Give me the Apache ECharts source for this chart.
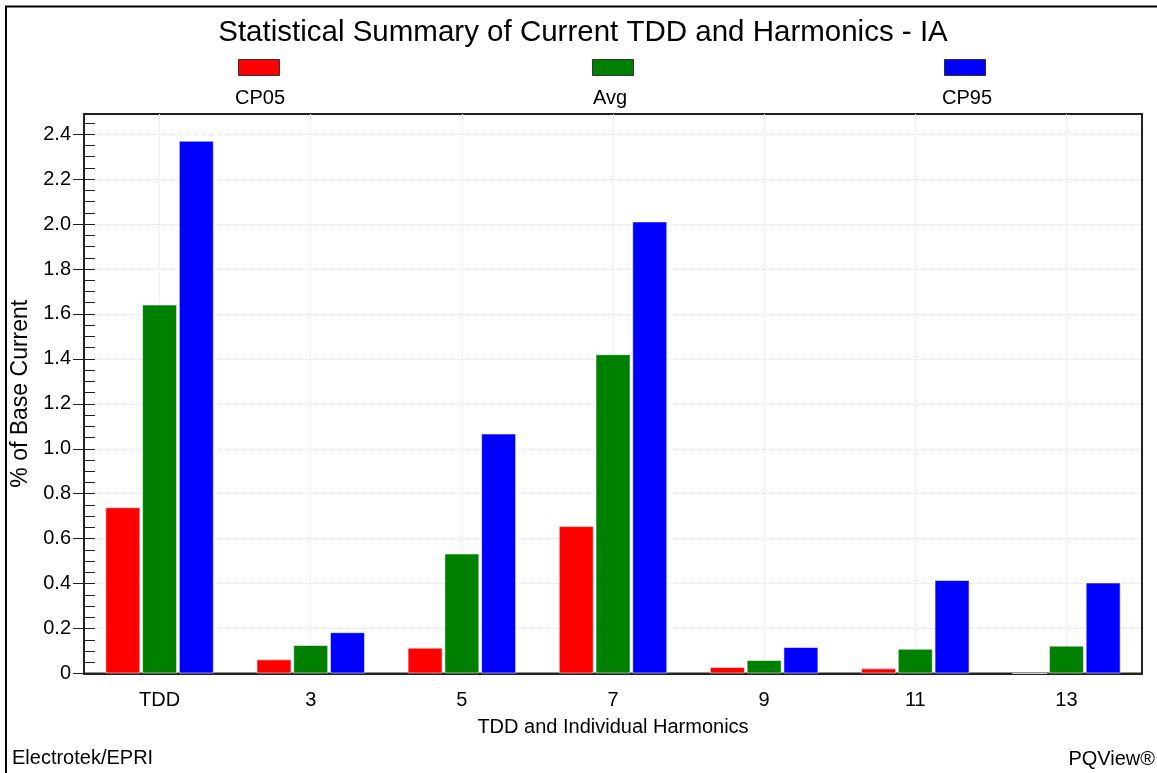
<!DOCTYPE html>
<html>
<head>
<meta charset="utf-8">
<script src="https://cdn.jsdelivr.net/npm/echarts@6/dist/echarts.min.js"></script>
<style>
html,body{margin:0;padding:0;background:#fff;}
#chart{width:1157px;height:773px;}
</style>
</head>
<body>
<div id="chart"></div>
<script>
// ---- data ----
const categories = ['TDD', '3', '5', '7', '9', '11', '13'];
const seriesNames = ['CP05', 'Avg', 'CP95'];
const cp05 = [0.74, 0.063, 0.115, 0.656, 0.029, 0.023, 0];
const avg  = [1.642, 0.127, 0.534, 1.421, 0.06, 0.11, 0.124];
const cp95 = [2.371, 0.184, 1.068, 2.012, 0.118, 0.416, 0.405];
const yTicks = [0, 0.2, 0.4, 0.6, 0.8, 1.0, 1.2, 1.4, 1.6, 1.8, 2.0, 2.2, 2.4];
const yTickLabels = ['0', '0.2', '0.4', '0.6', '0.8', '1.0', '1.2', '1.4', '1.6', '1.8', '2.0', '2.2', '2.4'];
const yMinorTicks = [0, 0.05, 0.1, 0.15, 0.2, 0.25, 0.3, 0.35, 0.4, 0.45, 0.5, 0.55, 0.6, 0.65, 0.7, 0.75,
  0.8, 0.85, 0.9, 0.95, 1.0, 1.05, 1.1, 1.15, 1.2, 1.25, 1.3, 1.35, 1.4, 1.45, 1.5, 1.55, 1.6, 1.65,
  1.7, 1.75, 1.8, 1.85, 1.9, 1.95, 2.0, 2.05, 2.1, 2.15, 2.2, 2.25, 2.3, 2.35, 2.4, 2.45];
const titleText = 'Statistical Summary of Current TDD and Harmonics - IA';
const xName = 'TDD and Individual Harmonics';
const yName = '% of Base Current';
const footLeft = 'Electrotek/EPRI';
const footRight = 'PQView®';
const colors = ['#ff0000', '#008000', '#0000ff'];

const FONT = "'Liberation Sans', Arial, sans-serif";
const chart = echarts.init(document.getElementById('chart'), null, {renderer: 'canvas'});

const seriesData = [cp05, avg, cp95];
const legendLefts = [238, 592, 944];
const legendLabelX = [260, 610, 967];

const option = {
  animation: false,
  backgroundColor: '#fff',
  textStyle: {fontFamily: FONT},
  grid: {left: 84, right: 15, top: 114, bottom: 99.5, show: true, borderColor: '#222', borderWidth: 2, containLabel: false},
  legend: seriesNames.map((n, i) => ({
    data: [n], left: legendLefts[i], top: 59, icon: 'rect', itemWidth: 41, itemHeight: 16,
    itemStyle: {borderColor: '#333', borderWidth: 1},
    formatter: () => '', selectedMode: false, padding: 0, textStyle: {fontSize: 1}
  })),
  xAxis: [{
    type: 'category', data: categories,
    name: xName, nameLocation: 'middle', nameGap: 44,
    nameTextStyle: {fontSize: 20, color: '#000', fontFamily: FONT},
    axisLine: {lineStyle: {color: '#222', width: 2}},
    axisTick: {alignWithLabel: true, length: 11, lineStyle: {color: '#222', width: 1}},
    axisLabel: {fontSize: 20, color: '#000', margin: 17, fontFamily: FONT},
    splitLine: {show: true, alignWithLabel: true, lineStyle: {color: '#e2e2e2', type: 'dotted', width: 1}}
  }],
  yAxis: [{
    type: 'value', min: 0, max: 2.49, interval: 0.2,
    name: yName, nameLocation: 'middle', nameGap: 46, nameRotate: 90,
    nameTextStyle: {fontSize: 23, color: '#000', fontFamily: FONT},
    axisLine: {show: true, lineStyle: {color: '#222', width: 2}},
    axisTick: {show: true, length: 11, customValues: yTicks, lineStyle: {color: '#222', width: 1}},
    axisLabel: {fontSize: 20, color: '#000', margin: 13, customValues: yTicks, fontFamily: FONT,
      formatter: (v) => { const k = yTicks.findIndex(t => Math.abs(t - v) < 1e-6); return k >= 0 ? yTickLabels[k] : ''; }},
    splitLine: {show: true, lineStyle: {color: '#e2e2e2', type: 'dotted', width: 1}}
  }, {
    type: 'value', min: 0, max: 2.49, position: 'left', offset: 0,
    axisLine: {show: false},
    axisTick: {show: true, inside: true, length: 11, customValues: yMinorTicks, lineStyle: {color: '#222', width: 1}},
    axisLabel: {show: false},
    splitLine: {show: false}
  }],
  series: seriesNames.map((n, i) => ({
    name: n, type: 'bar', data: seriesData[i], barWidth: 35, barGap: '5%',
    itemStyle: {color: colors[i], borderColor: 'rgba(255,255,255,0.55)', borderWidth: 1},
    emphasis: {disabled: true}
  })),
  graphic: [
    {type: 'polyline', shape: {points: [[6, 773], [6, 6.5], [1157, 6.5]]}, style: {stroke: '#000', lineWidth: 2, fill: null}, silent: true},
    {type: 'text', x: 583, y: 33, style: {text: titleText, font: '29.5px ' + FONT, fill: '#000', align: 'center', verticalAlign: 'middle'}},
    ...seriesNames.map((n, i) => ({type: 'text', x: legendLabelX[i], y: 98, style: {text: n, font: '20px ' + FONT, fill: '#000', align: 'center', verticalAlign: 'middle'}})),
    {type: 'text', x: 12, y: 758, style: {text: footLeft, font: '20px ' + FONT, fill: '#000', align: 'left', verticalAlign: 'middle'}},
    {type: 'text', x: 1155, y: 759, style: {text: footRight, font: '20px ' + FONT, fill: '#000', align: 'right', verticalAlign: 'middle'}}
  ]
};
chart.setOption(option);
</script>
</body>
</html>
